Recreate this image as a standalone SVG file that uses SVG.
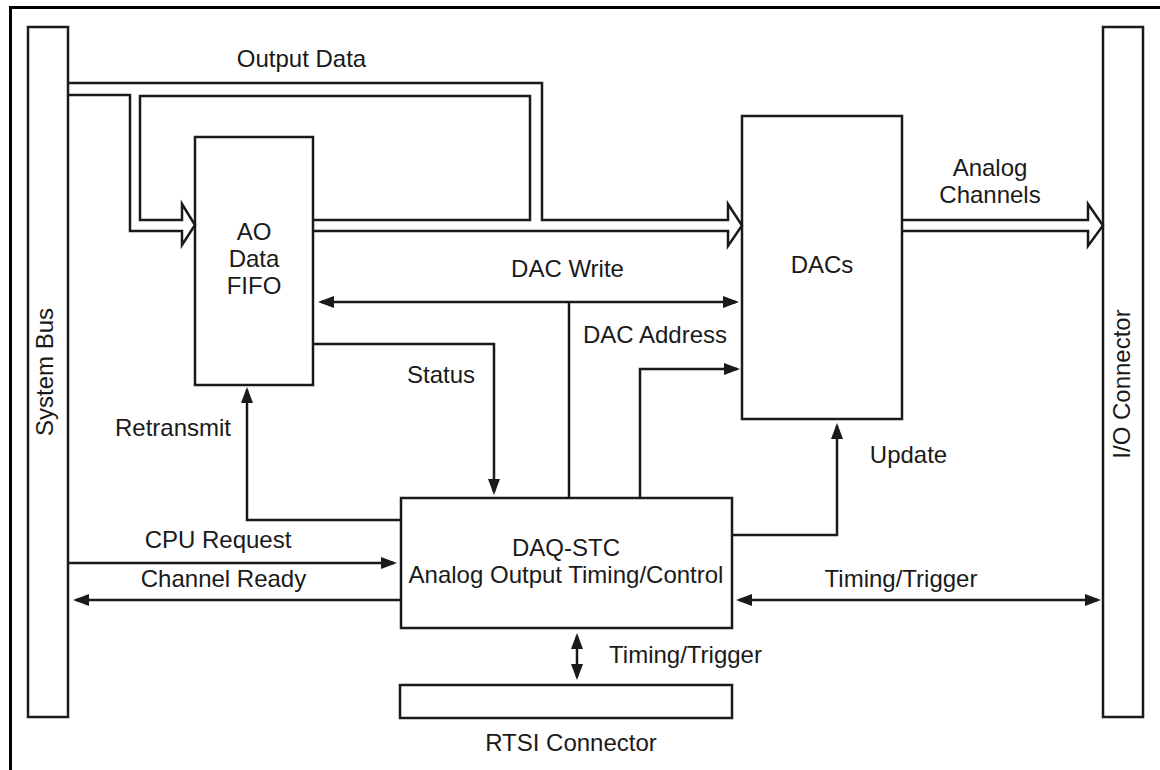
<svg xmlns="http://www.w3.org/2000/svg" width="1160" height="770" viewBox="0 0 1160 770">
<style>
.box{fill:#fff;stroke:#1a1a1a;stroke-width:2.5}
.ln{fill:none;stroke:#1a1a1a;stroke-width:2.5}
.bus{fill:none;stroke:#1a1a1a;stroke-width:2.5;stroke-linejoin:miter}
.t{font-family:"Liberation Sans",Arial,sans-serif;font-size:24px;fill:#1a1a1a;text-anchor:middle}
</style>
<defs>
<marker id="ah" markerUnits="userSpaceOnUse" markerWidth="16" markerHeight="12" refX="13" refY="6" orient="auto-start-reverse">
<path d="M0,0 L16,6 L0,12 z" fill="#1a1a1a"/>
</marker>
</defs>
<rect width="1160" height="770" fill="#fff"/>
<path d="M10.5,770 V7.5 H1160" fill="none" stroke="#000" stroke-width="3"/>

<g id="system-bus">
<rect class="box" x="28" y="27" width="40" height="690"/>
<text class="t" transform="translate(53,372) rotate(-90)">System Bus</text>
</g>
<g id="io-connector">
<rect class="box" x="1103" y="27" width="40" height="690"/>
<text class="t" transform="translate(1130,384) rotate(-90)">I/O Connector</text>
</g>
<g id="ao-fifo">
<rect class="box" x="195" y="137" width="118" height="248"/>
<text class="t" x="254" y="240">AO</text>
<text class="t" x="254" y="267">Data</text>
<text class="t" x="254" y="294">FIFO</text>
</g>
<g id="dacs">
<rect class="box" x="742" y="116" width="160" height="303"/>
<text class="t" x="822" y="273">DACs</text>
</g>
<g id="daq-stc">
<rect class="box" x="401" y="498" width="331" height="130"/>
<text class="t" x="566" y="556">DAQ-STC</text>
<text class="t" x="566" y="583">Analog Output Timing/Control</text>
</g>
<g id="rtsi">
<rect class="box" x="400" y="685" width="332" height="33"/>
<text class="t" x="571" y="751">RTSI Connector</text>
</g>

<g id="connectors">
<path class="bus" d="M68,95 H130 V231 H182 V245 L195,225 L182,204 V220 H140 V96 H530 V220 H313"/>
<path class="bus" d="M68,83 H542 V220 H728 V204 L742,225.5 L728,246 V231 H313"/>
<path class="bus" d="M902,220 H1088 V204 L1103,225.5 L1088,246 V231 H902"/>
<path class="ln" d="M321,302 H736" marker-start="url(#ah)" marker-end="url(#ah)"/>
<path class="ln" d="M569,302 V498"/>
<path class="ln" d="M313,344 H494 V492" marker-end="url(#ah)"/>
<path class="ln" d="M640,498 V369 H737" marker-end="url(#ah)"/>
<path class="ln" d="M401,520 H247 V390" marker-end="url(#ah)"/>
<path class="ln" d="M68,563 H394" marker-end="url(#ah)"/>
<path class="ln" d="M401,600 H76" marker-end="url(#ah)"/>
<path class="ln" d="M732,535 H837 V426" marker-end="url(#ah)"/>
<path class="ln" d="M739,600 H1098" marker-start="url(#ah)" marker-end="url(#ah)"/>
<path class="ln" d="M577,636 V677" marker-start="url(#ah)" marker-end="url(#ah)"/>
</g>

<g id="labels">
<text class="t" x="301.5" y="67">Output Data</text>
<text class="t" x="990" y="176">Analog</text>
<text class="t" x="990" y="203">Channels</text>
<text class="t" x="567.5" y="277">DAC Write</text>
<text class="t" x="655" y="343">DAC Address</text>
<text class="t" x="441" y="383">Status</text>
<text class="t" x="173" y="436">Retransmit</text>
<text class="t" x="908.5" y="463">Update</text>
<text class="t" x="218" y="548">CPU Request</text>
<text class="t" x="223.5" y="587">Channel Ready</text>
<text class="t" x="901" y="587">Timing/Trigger</text>
<text class="t" x="685.5" y="663">Timing/Trigger</text>
</g>
</svg>
